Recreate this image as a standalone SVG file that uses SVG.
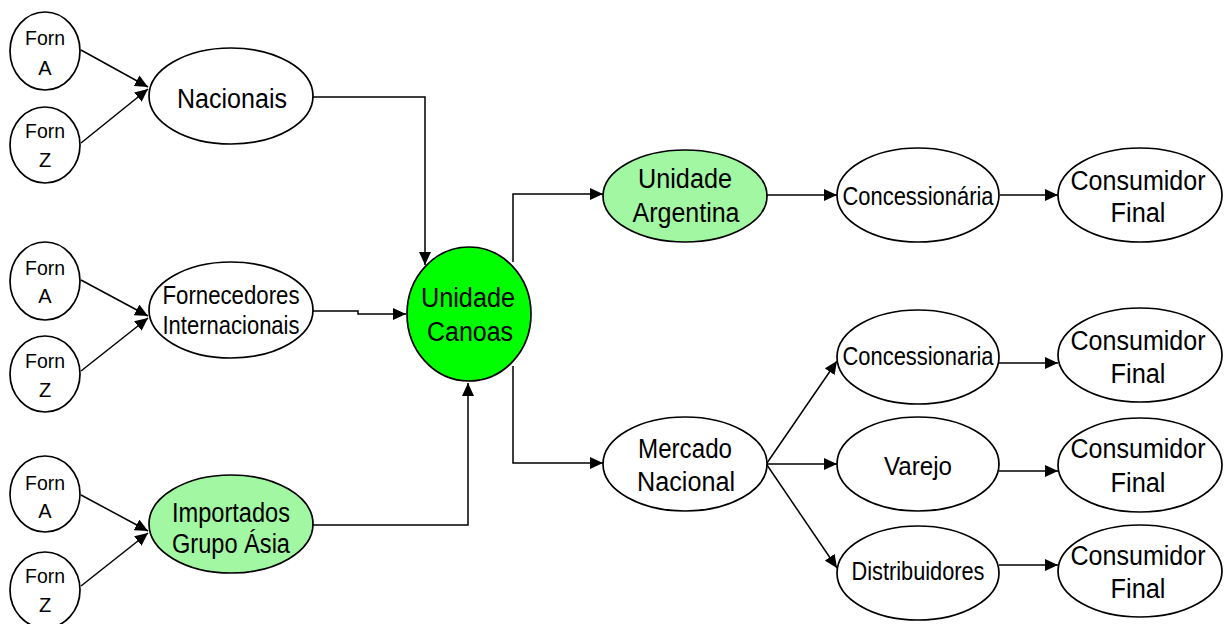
<svg xmlns="http://www.w3.org/2000/svg" width="1226" height="624" viewBox="0 0 1226 624">
  <style>
    .node { stroke: #000; stroke-width: 1.7; fill: #fff; }
    .main { fill: #00ff00; }
    .light { fill: #a2f7a2; }
    .edge { fill: none; stroke: #000; stroke-width: 1.5; marker-end: url(#arrow); }
    text { font-family: "Liberation Sans", Arial, sans-serif; fill: #000; text-anchor: middle; }
    .sm { font-size: 20px; }
    .md { font-size: 25px; }
    .lg { font-size: 27px; }
  </style>
  <defs>
    <marker id="arrow" markerUnits="userSpaceOnUse" markerWidth="14" markerHeight="12" refX="13" refY="6" orient="auto">
      <path d="M0,0 L13,6 L0,12 z" fill="#000"/>
    </marker>
  </defs>

  <!-- connectors -->
  <g id="connectors">
    <line class="edge" x1="81" y1="50" x2="148" y2="87"/>
    <line class="edge" x1="81" y1="143" x2="148" y2="89"/>
    <line class="edge" x1="81" y1="280" x2="148" y2="316"/>
    <line class="edge" x1="81" y1="371" x2="148" y2="318"/>
    <line class="edge" x1="81" y1="495" x2="148" y2="531"/>
    <line class="edge" x1="81" y1="586" x2="148" y2="533"/>
    <path class="edge" d="M313,97 H425 V265"/>
    <path class="edge" d="M313,311 H358 V314 H406"/>
    <path class="edge" d="M313,525 H468 V383"/>
    <path class="edge" d="M513,262 V194 H603"/>
    <path class="edge" d="M513,366 V463 H603"/>
    <line class="edge" x1="767" y1="195" x2="837" y2="195"/>
    <line class="edge" x1="1000" y1="195" x2="1058" y2="195"/>
    <line class="edge" x1="767" y1="463" x2="837" y2="361"/>
    <line class="edge" x1="767" y1="464" x2="837" y2="464"/>
    <line class="edge" x1="767" y1="465" x2="837" y2="568"/>
    <line class="edge" x1="999" y1="363" x2="1058" y2="363"/>
    <line class="edge" x1="999" y1="471" x2="1058" y2="471"/>
    <line class="edge" x1="999" y1="565" x2="1058" y2="565"/>
  </g>

  <!-- supplier circles -->
  <g id="forn-a-1"><ellipse class="node" cx="45" cy="51" rx="35" ry="39"/>
    <text class="sm" x="45" y="45" textLength="40" lengthAdjust="spacingAndGlyphs">Forn</text><text class="sm" x="45" y="75">A</text></g>
  <g id="forn-z-1"><ellipse class="node" cx="45" cy="145" rx="35" ry="38"/>
    <text class="sm" x="45" y="138" textLength="40" lengthAdjust="spacingAndGlyphs">Forn</text><text class="sm" x="45" y="167">Z</text></g>
  <g id="forn-a-2"><ellipse class="node" cx="45" cy="281" rx="35" ry="39"/>
    <text class="sm" x="45" y="275" textLength="40" lengthAdjust="spacingAndGlyphs">Forn</text><text class="sm" x="45" y="303">A</text></g>
  <g id="forn-z-2"><ellipse class="node" cx="45" cy="374" rx="35" ry="38"/>
    <text class="sm" x="45" y="368" textLength="40" lengthAdjust="spacingAndGlyphs">Forn</text><text class="sm" x="45" y="397">Z</text></g>
  <g id="forn-a-3"><ellipse class="node" cx="45" cy="494" rx="35" ry="38"/>
    <text class="sm" x="45" y="490" textLength="40" lengthAdjust="spacingAndGlyphs">Forn</text><text class="sm" x="45" y="518">A</text></g>
  <g id="forn-z-3"><ellipse class="node" cx="45" cy="590" rx="35" ry="38"/>
    <text class="sm" x="45" y="583" textLength="40" lengthAdjust="spacingAndGlyphs">Forn</text><text class="sm" x="45" y="612">Z</text></g>

  <!-- supplier groups -->
  <g id="nacionais"><ellipse class="node" cx="231" cy="96" rx="82" ry="48"/>
    <text class="lg" x="232" y="108" textLength="110" lengthAdjust="spacingAndGlyphs">Nacionais</text></g>
  <g id="internacionais"><ellipse class="node" cx="231" cy="310" rx="82" ry="48"/>
    <text class="md" x="231" y="304" textLength="137" lengthAdjust="spacingAndGlyphs">Fornecedores</text>
    <text class="md" x="231" y="334" textLength="137" lengthAdjust="spacingAndGlyphs">Internacionais</text></g>
  <g id="importados"><ellipse class="node light" cx="231" cy="524" rx="82" ry="49"/>
    <text class="lg" x="231" y="522" textLength="118" lengthAdjust="spacingAndGlyphs">Importados</text>
    <text class="lg" x="231" y="553" textLength="118" lengthAdjust="spacingAndGlyphs">Grupo Ásia</text></g>

  <!-- plant -->
  <g id="canoas"><ellipse class="node main" cx="469" cy="314" rx="62" ry="67"/>
    <text class="lg" x="468" y="307" textLength="94" lengthAdjust="spacingAndGlyphs">Unidade</text>
    <text class="lg" x="470" y="341" textLength="86" lengthAdjust="spacingAndGlyphs">Canoas</text></g>

  <!-- markets -->
  <g id="argentina"><ellipse class="node light" cx="685" cy="196" rx="82" ry="46"/>
    <text class="lg" x="685" y="188" textLength="94" lengthAdjust="spacingAndGlyphs">Unidade</text>
    <text class="lg" x="686" y="222" textLength="107" lengthAdjust="spacingAndGlyphs">Argentina</text></g>
  <g id="mercado"><ellipse class="node" cx="685" cy="464" rx="82" ry="47"/>
    <text class="lg" x="685" y="458" textLength="94" lengthAdjust="spacingAndGlyphs">Mercado</text>
    <text class="lg" x="686" y="491" textLength="98" lengthAdjust="spacingAndGlyphs">Nacional</text></g>

  <!-- channels -->
  <g id="concessionaria-ar"><ellipse class="node" cx="918" cy="195" rx="81" ry="47"/>
    <text class="md" x="918" y="205" textLength="151" lengthAdjust="spacingAndGlyphs">Concessionária</text></g>
  <g id="concessionaria-br"><ellipse class="node" cx="918" cy="357" rx="81" ry="47"/>
    <text class="md" x="918" y="365" textLength="151" lengthAdjust="spacingAndGlyphs">Concessionaria</text></g>
  <g id="varejo"><ellipse class="node" cx="918" cy="464" rx="81" ry="47"/>
    <text class="md" x="918" y="475" textLength="68" lengthAdjust="spacingAndGlyphs">Varejo</text></g>
  <g id="distribuidores"><ellipse class="node" cx="918" cy="573" rx="81" ry="47"/>
    <text class="md" x="918" y="580" textLength="133" lengthAdjust="spacingAndGlyphs">Distribuidores</text></g>

  <!-- end consumers -->
  <g id="consumidor-1"><ellipse class="node" cx="1140" cy="195" rx="82" ry="47"/>
    <text class="lg" x="1138" y="190" textLength="135" lengthAdjust="spacingAndGlyphs">Consumidor</text>
    <text class="lg" x="1138" y="222" textLength="55" lengthAdjust="spacingAndGlyphs">Final</text></g>
  <g id="consumidor-2"><ellipse class="node" cx="1140" cy="355" rx="82" ry="47"/>
    <text class="lg" x="1138" y="350" textLength="135" lengthAdjust="spacingAndGlyphs">Consumidor</text>
    <text class="lg" x="1138" y="383" textLength="55" lengthAdjust="spacingAndGlyphs">Final</text></g>
  <g id="consumidor-3"><ellipse class="node" cx="1140" cy="465" rx="82" ry="47"/>
    <text class="lg" x="1138" y="458" textLength="135" lengthAdjust="spacingAndGlyphs">Consumidor</text>
    <text class="lg" x="1138" y="492" textLength="55" lengthAdjust="spacingAndGlyphs">Final</text></g>
  <g id="consumidor-4"><ellipse class="node" cx="1140" cy="571" rx="82" ry="46"/>
    <text class="lg" x="1138" y="565" textLength="135" lengthAdjust="spacingAndGlyphs">Consumidor</text>
    <text class="lg" x="1138" y="598" textLength="55" lengthAdjust="spacingAndGlyphs">Final</text></g>
</svg>
